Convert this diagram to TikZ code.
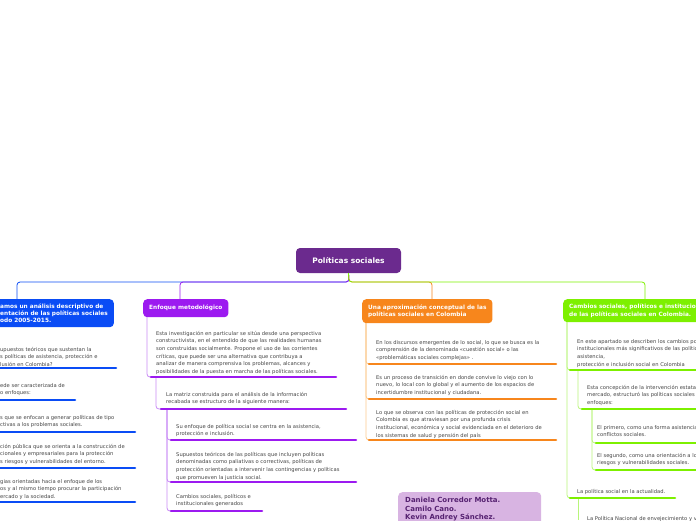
\documentclass[tikz,border=0pt]{standalone}
\usepackage{fontspec}
\setmainfont{DejaVu Sans}
\definecolor{rootc}{HTML}{6B2A8E}
\definecolor{bluec}{HTML}{0A4CF5}
\definecolor{purc}{HTML}{9C1AF0}
\definecolor{purl}{HTML}{C88AF5}
\definecolor{oranc}{HTML}{F7861C}
\definecolor{oranl}{HTML}{FBC98E}
\definecolor{greenc}{HTML}{7DF000}
\definecolor{greenl}{HTML}{B8F57A}
\definecolor{authc}{HTML}{D8B4E2}
\definecolor{txtc}{HTML}{444444}
\begin{document}
\begin{tikzpicture}[x=1pt,y=-1pt]

    \tikzset{topic/.style={rounded corners=4pt,anchor=north west,align=left,text=white,font=\fontsize{5.8}{7.4}\selectfont\bfseries,inner xsep=6pt,inner ysep=3pt},
             leaf/.style={anchor=north west,align=left,inner sep=0pt,text=txtc,font=\fontsize{5.2}{7.6}\selectfont},
             bar/.style={line width=2.6pt,line cap=round},
             link/.style={line width=0.8pt,rounded corners=3pt}}
    \useasboundingbox (0,0) rectangle (696,520);
    \clip (0,0) rectangle (696,520);

    \node[topic,fill=rootc,minimum width=105pt,minimum height=25pt,align=center,anchor=center,font=\fontsize{7.5}{9}\selectfont\bfseries] (root) at (348.5,260.5) {Políticas sociales};

    % branches
    \node[topic,fill=bluec,minimum height=28pt] (b0) at (-6,299) {amos un análisis descriptivo de\\entación de las políticas sociales\\odo 2005-2015.};
    \node[topic,fill=purc,minimum height=18pt] (p0) at (143,299) {Enfoque metodológico};
    \node[topic,fill=oranc,minimum height=24pt] (o0) at (362,299) {Una aproximación conceptual de las\\políticas sociales en Colombia};
    \node[topic,fill=greenc,minimum height=23pt] (g0) at (563,299) {Cambios sociales, políticos e institucionales\\de las políticas sociales en Colombia.};

    \begin{scope}[every path/.style={link}]
        \draw[bluec] (root.south) -- (349,282) -| (17,299);
        \draw[purc] (root.south) -- (349,282) -| (180,299);
        \draw[oranc] (root.south) -- (349,282) -| (432,299);
        \draw[greenc] (root.south) -- (349,282) -| (645,299);
    \end{scope}

    % blue leaves
    \node[leaf] (b1) at (0,347) {upuestos teóricos que sustentan la\\s políticas de asistencia, protección e\\lusión en Colombia?};
    \node[leaf] (b2) at (0,383) {ede ser caracterizada de\\o enfoques:};
    \node[leaf] (b3) at (0,415) {s que se enfocan a generar políticas de tipo\\ctivas a los problemas sociales.};
    \node[leaf] (b4) at (0,444) {ción pública que se orienta a la construcción de\\cionales y empresariales para la protección\\s riesgos y vulnerabilidades del entorno.};
    \node[leaf] (b5) at (0,479) {gias orientadas hacia el enfoque de los\\os y al mismo tiempo procurar la participación\\ercado y la sociedad.};
    \begin{scope}[every path/.style={bar,bluec}]
        \draw (-5,368) -- (116,368);
        \draw (-5,400) -- (75,400);
        \draw (-5,432) -- (135,432);
        \draw (-5,468) -- (135,468);
        \draw (-5,502) -- (135,502);
    \end{scope}

    % purple leaves
    \node[leaf] (p1) at (156,331) {Esta investigación en particular se sitúa desde una perspectiva\\constructivista, en el entendido de que las realidades humanas\\son construidas socialmente. Propone el uso de las corrientes\\críticas, que puede ser una alternativa que contribuya a\\analizar de manera comprensiva los problemas, alcances y\\posibilidades de la puesta en marcha de las políticas sociales.};
    \node[leaf] (p2) at (166,392) {La matriz construida para el análisis de la información\\recabada se estructuro de la siguiente manera:};
    \node[leaf] (p3) at (176,424) {Su enfoque de política social se centra en la asistencia,\\protección e inclusión.};
    \node[leaf] (p4) at (176,452) {Supuestos teóricos de las políticas que incluyen políticas\\denominadas como paliativas o correctivas, políticas de\\protección orientadas a intervenir las contingencias y políticas\\que promueven la justicia social.};
    \node[leaf] (p5) at (176,494) {Cambios sociales, políticos e\\institucionales generados};
    \begin{scope}[every path/.style={link,purl}]
        \draw (147,317) |- (151,377);
        \draw (156,377) |- (161,409);
        \draw (167,409) |- (171,440);
        \draw (167,409) |- (171,482);
        \draw (167,409) |- (171,511);
    \end{scope}
    \begin{scope}[every path/.style={bar,purc}]
        \draw (151,377) -- (336,377);
        \draw (161,409) -- (346,409);
        \draw (171,440) -- (356,440);
        \draw (171,482) -- (356,482);
        \draw (171,511) -- (262,511);
    \end{scope}

    % orange leaves
    \node[leaf] (o1) at (376,340) {En los discursos emergentes de lo social, lo que se busca es la\\comprensión de la denominada «cuestión social» o las\\«problemáticas sociales complejas» .};
    \node[leaf] (o2) at (376,375) {Es un proceso de transición en donde convive lo viejo con lo\\nuevo, lo local con lo global y el aumento de los espacios de\\incertidumbre institucional y ciudadana.};
    \node[leaf] (o3) at (376,410) {Lo que se observa con las políticas de protección social en\\Colombia es que atraviesan por una profunda crisis\\institucional, económica y social evidenciada en el deterioro de\\los sistemas de salud y pensión del país};
    \begin{scope}[every path/.style={link,oranl}]
        \draw (366,323) |- (369,364);
        \draw (366,323) |- (369,399);
        \draw (366,323) |- (369,440);
    \end{scope}
    \begin{scope}[every path/.style={bar,oranc}]
        \draw (369,364) -- (556,364);
        \draw (369,399) -- (556,399);
        \draw (369,440) -- (556,440);
    \end{scope}

    % green leaves
    \node[leaf] (g1) at (577,339) {En este apartado se describen los cambios políticos e\\institucionales más significativos de las políticas de\\asistencia,\\protección e inclusión social en Colombia};
    \node[leaf] (g2) at (587,385) {Esta concepción de la intervención estatal y del\\mercado, estructuró las políticas sociales en dos\\enfoques:};
    \node[leaf] (g3) at (597,425) {El primero, como una forma asistencial a los\\conflictos sociales.};
    \node[leaf] (g4) at (597,453) {El segundo, como una orientación a los\\riesgos y vulnerabilidades sociales.};
    \node[leaf] (g5) at (577,489) {La política social en la actualidad.};
    \node[leaf] (g6) at (587,516) {La Política Nacional de envejecimiento y vejez};
    \begin{scope}[every path/.style={link,greenl}]
        \draw (567,322) |- (570,370);
        \draw (567,322) |- (570,498);
        \draw (578,370) |- (582,409);
        \draw (592,409) |- (596,443);
        \draw (592,409) |- (596,470);
        \draw (578,498) -- (578,520);
    \end{scope}
    \begin{scope}[every path/.style={bar,greenc}]
        \draw (570,370) -- (700,370);
        \draw (582,409) -- (700,409);
        \draw (596,443) -- (700,443);
        \draw (596,470) -- (700,470);
        \draw (570,498) -- (675,498);
    \end{scope}

    % authors
    \node[anchor=north west,fill=authc,rounded corners=4pt,text width=129pt,minimum height=34pt,align=left,text=rootc!80!black,font=\fontsize{7}{8.8}\selectfont\bfseries,inner xsep=7pt,inner ysep=4pt] (auth) at (398,492) {Daniela Corredor Motta.\\Camilo Cano.\\Kevin Andrey Sánchez.};
\end{tikzpicture}
\end{document}
